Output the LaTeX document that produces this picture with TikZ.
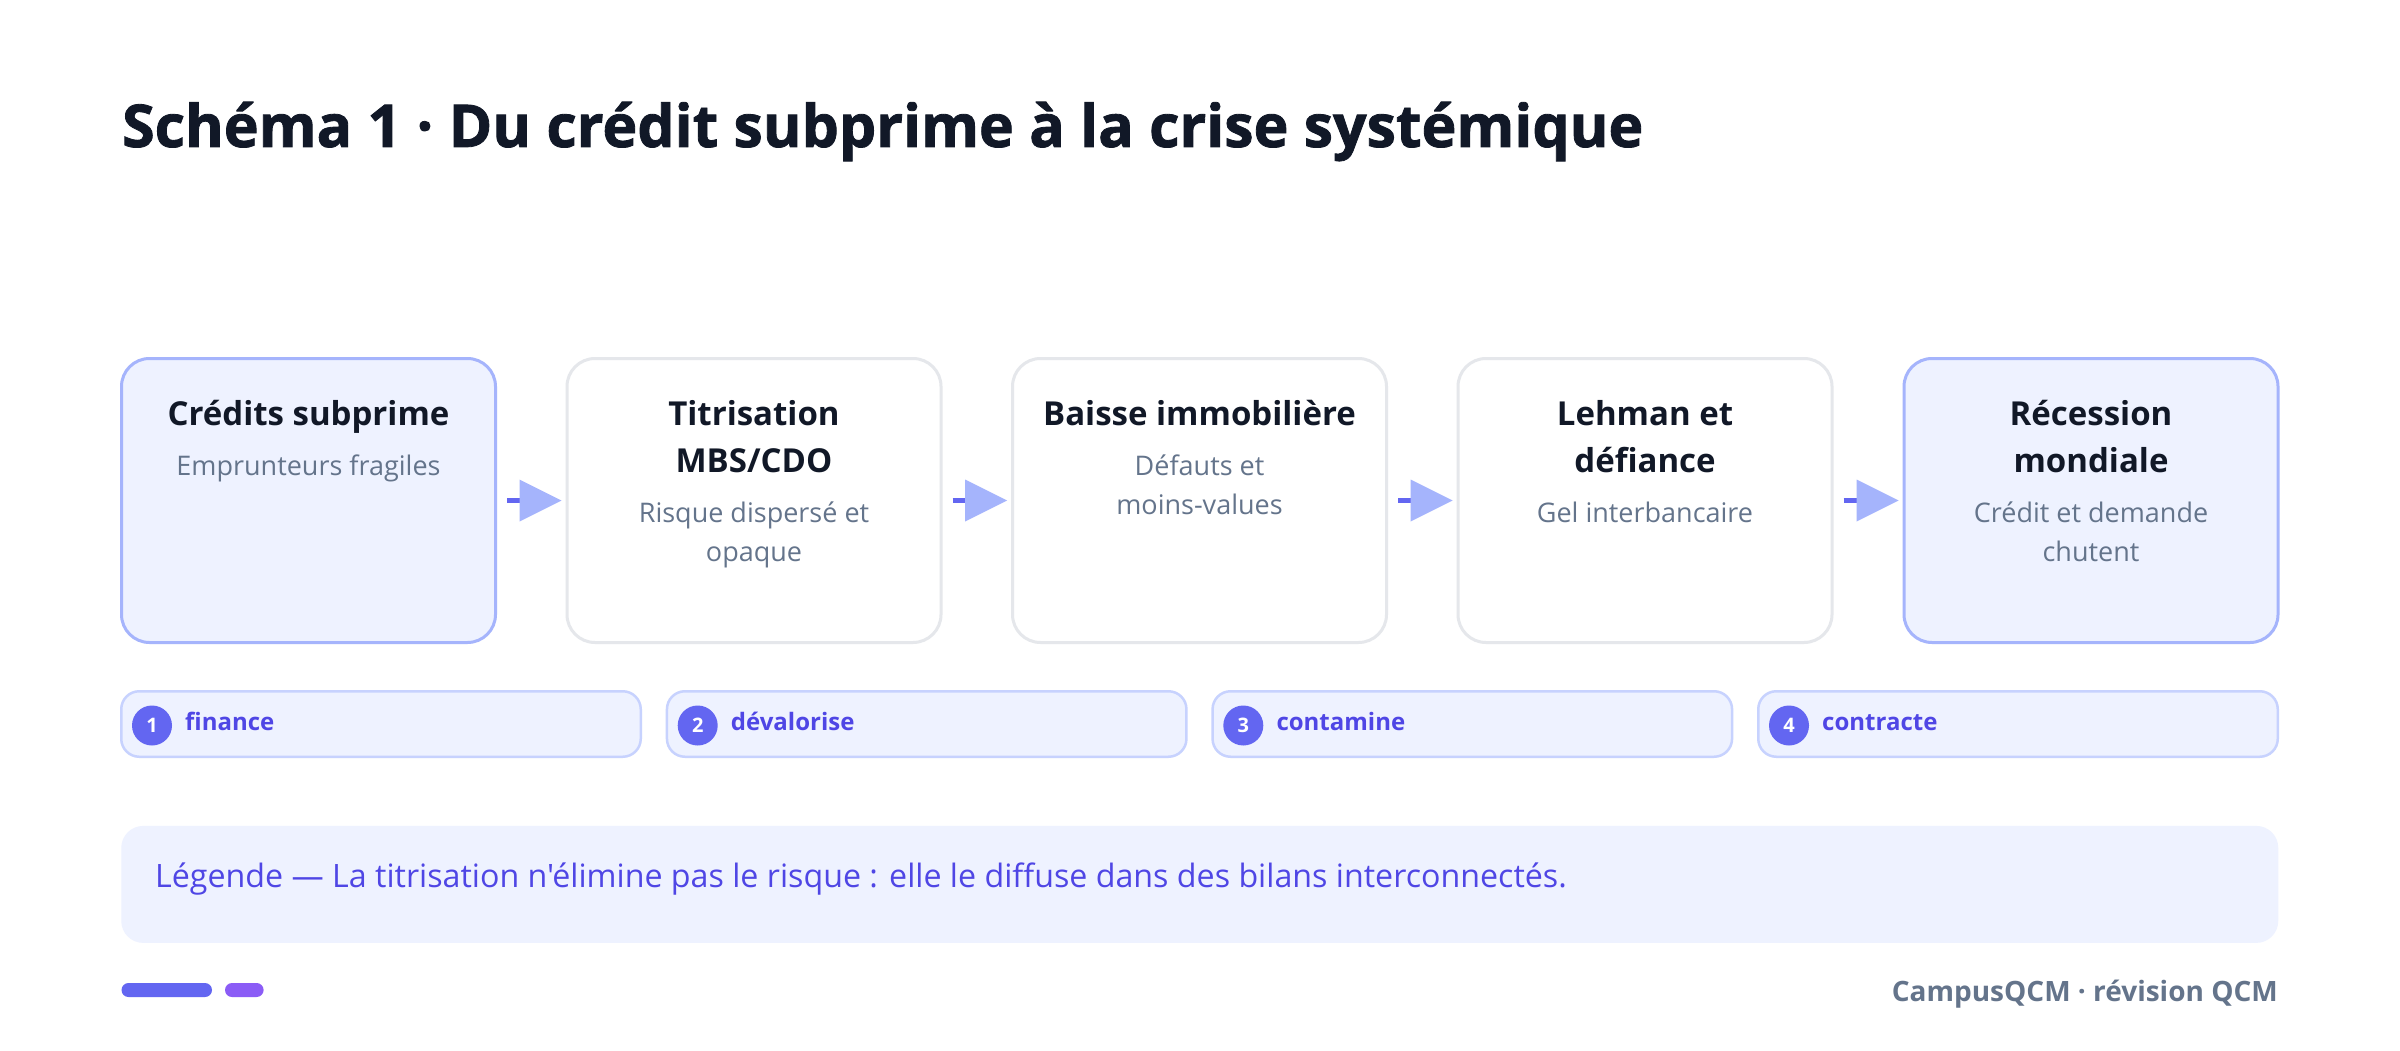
\documentclass[tikz,border=0pt]{standalone}
\usepackage{fontspec}
\setmainfont{Open Sans}[Ligatures=TeXOff]
\newfontfamily\titlefont{Open Sans}[Ligatures=TeXOff, BoldFeatures={FakeBold=1.4}]
\usetikzlibrary{arrows.meta}
\definecolor{ink}{HTML}{111827}
\definecolor{muted}{HTML}{64748B}
\definecolor{boxfill}{HTML}{EEF2FF}
\definecolor{boxline}{HTML}{A5B4FC}
\definecolor{grayline}{HTML}{E5E7EB}
\definecolor{indigo}{HTML}{6366F1}
\definecolor{indigotext}{HTML}{4F46E5}
\definecolor{badgeline}{HTML}{C7D2FE}
\definecolor{violet}{HTML}{8B5CF6}
\tikzset{
  stepbox/.style={draw, rounded corners=28pt, line width=3pt, minimum width=374pt, minimum height=284pt, inner sep=0pt},
  hibox/.style={stepbox, fill=boxfill, draw=boxline},
  plainbox/.style={stepbox, fill=white, draw=grayline},
  ttl/.style={font=\fontsize{33}{38}\selectfont\bfseries, text=ink, anchor=base, inner sep=0pt},
  sub/.style={font=\fontsize{27}{32}\selectfont, text=muted, anchor=base, inner sep=0pt},
  flow/.style={line width=5pt, draw=indigo, shorten <=10pt, shorten >=4pt,
    -{Triangle[length=42pt,width=42pt,line width=0pt,color=boxline]}},
  badge/.style={draw=badgeline, fill=boxfill, line width=2.5pt, rounded corners=18pt, minimum width=519.5pt, minimum height=65.5pt, inner sep=0pt},
  num/.style={circle, fill=indigo, minimum size=40pt, inner sep=0pt, text=white, font=\fontsize{20}{24}\selectfont\bfseries},
  lbl/.style={anchor=base west, inner sep=0pt, text=indigotext, font=\fontsize{24}{30}\selectfont\bfseries},
}
\begin{document}
\begin{tikzpicture}[x=1pt,y=-1pt]
\useasboundingbox (0,0) rectangle (2400,1051);
\fill[white] (0,0) rectangle (2400,1051);

% title
\node[anchor=base west, inner sep=0pt, text=ink, font=\titlefont\fontsize{59}{70}\selectfont\bfseries] (title) at (122,147) {Schéma 1 · Du crédit subprime à la crise systémique};

% boxes
\node[hibox]    (b1) at (308.5,500.5) {};
\node[plainbox] (b2) at (754,500.5) {};
\node[plainbox] (b3) at (1199.5,500.5) {};
\node[plainbox] (b4) at (1645,500.5) {};
\node[hibox]    (b5) at (2091,500.5) {};

% box texts
\node[ttl] (t1a) at (308.5,425) {Crédits subprime};
\node[sub] (s1a) at (308.5,475) {Emprunteurs fragiles};

\node[ttl] (t2a) at (754,425) {Titrisation};
\node[ttl] (t2b) at (754,472.5) {MBS/CDO};
\node[sub] (s2a) at (754,522.5) {Risque dispersé et};
\node[sub] (s2b) at (754,561.5) {opaque};

\node[ttl] (t3a) at (1199.5,425) {Baisse immobilière};
\node[sub] (s3a) at (1199.5,475) {Défauts et};
\node[sub] (s3b) at (1199.5,514) {moins-values};

\node[ttl] (t4a) at (1645,425) {Lehman et};
\node[ttl] (t4b) at (1645,472.5) {défiance};
\node[sub] (s4a) at (1645,522.5) {Gel interbancaire};

\node[ttl] (t5a) at (2091,425) {Récession};
\node[ttl] (t5b) at (2091,472.5) {mondiale};
\node[sub] (s5a) at (2091,522.5) {Crédit et demande};
\node[sub] (s5b) at (2091,561.5) {chutent};

% connectors
\draw[flow] (b1) -- (b2);
\draw[flow] (b2) -- (b3);
\draw[flow] (b3) -- (b4);
\draw[flow] (b4) -- (b5);

% badges
\node[badge] (g1) at (381,724) {};
\node[badge] (g2) at (926.7,724) {};
\node[badge] (g3) at (1472.3,724) {};
\node[badge] (g4) at (2018,724) {};
\node[num] (n1) at (152,725.5) {1};
\node[num] (n2) at (697.7,725.5) {2};
\node[num] (n3) at (1243.3,725.5) {3};
\node[num] (n4) at (1789,725.5) {4};
\node[lbl] (l1) at (185,730) {finance};
\node[lbl] (l2) at (730.7,730) {dévalorise};
\node[lbl] (l3) at (1276.3,730) {contamine};
\node[lbl] (l4) at (1822,730) {contracte};

% legend
\node[fill=boxfill, rounded corners=22pt, minimum width=2157pt, minimum height=117pt, inner sep=0pt] (leg) at (1199.75,884.4) {};
\node[anchor=base west, inner sep=0pt, text=indigotext, font=\fontsize{32.2}{36}\selectfont] (legtext) at (155,887) {Légende — La titrisation n'élimine pas le risque : elle le diffuse dans des bilans interconnectés.};

% footer
\node[fill=indigo, rounded corners=7pt, minimum width=90.5pt, minimum height=14pt, inner sep=0pt] (p1) at (166.75,990) {};
\node[fill=violet, rounded corners=7pt, minimum width=38.6pt, minimum height=14pt, inner sep=0pt] (p2) at (244.3,990) {};
\node[anchor=base east, inner sep=0pt, text=muted, font=\fontsize{28}{34}\selectfont\bfseries] (foot) at (2278,1001.7) {CampusQCM · révision QCM};
\end{tikzpicture}
\end{document}
